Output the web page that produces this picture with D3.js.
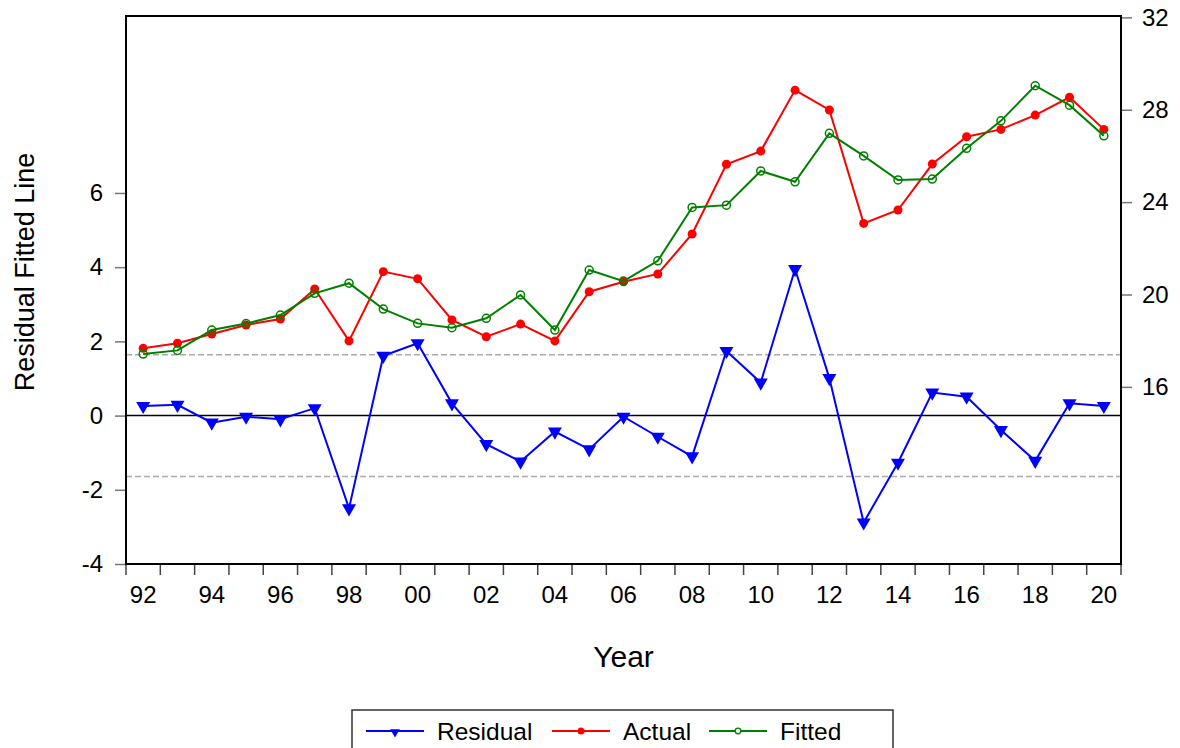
<!DOCTYPE html>
<html>
<head>
<meta charset="utf-8">
<script src="https://cdn.jsdelivr.net/npm/d3@7"></script>
<style>
  body { margin: 0; background: #fff; }
  text { font-family: "Liberation Sans", Arial, sans-serif; fill: #000; }
</style>
</head>
<body>
<div id="chart"></div>
<script>
// ---- data ----
const years    = d3.range(1992, 2021);
const residual = [0.26, 0.29, -0.19, -0.03, -0.10, 0.20, -2.50, 1.61, 1.95, 0.33,
                  -0.77, -1.24, -0.43, -0.91, -0.03, -0.57, -1.10, 1.74, 0.89, 3.95,
                  1.01, -2.88, -1.27, 0.62, 0.51, -0.39, -1.22, 0.33, 0.26];
const actual   = [17.67, 17.89, 18.29, 18.68, 18.94, 20.24, 17.99, 20.99, 20.68, 18.90,
                  18.17, 18.72, 17.99, 20.12, 20.55, 20.89, 22.62, 25.64, 26.21, 28.85,
                  27.99, 23.08, 23.66, 25.65, 26.83, 27.15, 27.77, 28.54, 27.15];
const fitted   = [17.42, 17.58, 18.46, 18.74, 19.11, 20.05, 20.49, 19.37, 18.75, 18.56,
                  18.97, 19.98, 18.46, 21.06, 20.58, 21.46, 23.77, 23.87, 25.35, 24.88,
                  26.98, 26.00, 24.96, 25.00, 26.33, 27.52, 29.04, 28.20, 26.87];
const leftTicks  = [-4, -2, 0, 2, 4, 6];
const rightTicks = [16, 20, 24, 28, 32];
const residBand  = 1.64;   // +/- 1 s.e. dashed lines

const W = 1180, H = 748;
const frame = { left: 126, right: 1121, top: 16, bottom: 564 };

const svg = d3.select('#chart').append('svg')
  .attr('width', W).attr('height', H);

const x  = d3.scaleBand().domain(years).range([frame.left, frame.right]);
const yL = d3.scaleLinear().domain([-4, 10.77]).range([frame.bottom, frame.top]);
const yR = d3.scaleLinear().domain([8.33, 32.06]).range([frame.bottom, frame.top]);
const cx = d => x(d) + x.bandwidth() / 2;

/* -------- reference lines -------- */
svg.selectAll('line.band').data([residBand, -residBand]).enter().append('line')
  .attr('x1', frame.left).attr('x2', frame.right)
  .attr('y1', d => yL(d)).attr('y2', d => yL(d))
  .attr('stroke', '#aaa').attr('stroke-width', 1.5).attr('stroke-dasharray', '6,3');

svg.append('line')
  .attr('x1', frame.left).attr('x2', frame.right)
  .attr('y1', yL(0)).attr('y2', yL(0))
  .attr('stroke', '#000').attr('stroke-width', 1.5);

/* -------- series -------- */
const tri = d3.symbol().type(d3.symbolTriangle).size(85);

function series (vals, scale, color) {
  const pts = years.map((yr, i) => [cx(yr), scale(vals[i])]);
  svg.append('path')
    .attr('d', d3.line()(pts))
    .attr('fill', 'none').attr('stroke', color).attr('stroke-width', 2);
  return svg.append('g').selectAll('g').data(pts).enter();
}

series(residual, yL, '#0000ff').append('path')
  .attr('d', tri)
  .attr('transform', d => `translate(${d[0]},${d[1]}) rotate(180)`)
  .attr('fill', '#0000ff');

series(actual, yR, '#ff0000').append('circle')
  .attr('cx', d => d[0]).attr('cy', d => d[1]).attr('r', 4.5)
  .attr('fill', '#ff0000');

series(fitted, yR, '#008000').append('circle')
  .attr('cx', d => d[0]).attr('cy', d => d[1]).attr('r', 4)
  .attr('fill', 'none').attr('stroke', '#008000').attr('stroke-width', 1.5);

/* -------- axes -------- */
const axL = svg.append('g').attr('transform', `translate(${frame.left},0)`)
  .call(d3.axisLeft(yL).tickValues(leftTicks).tickFormat(d => String(d))
    .tickSize(11).tickPadding(12));
const axR = svg.append('g').attr('transform', `translate(${frame.right},0)`)
  .call(d3.axisRight(yR).tickValues(rightTicks).tickFormat(d => String(d))
    .tickSize(11).tickPadding(10));
[axL, axR].forEach(a => {
  a.select('.domain').remove();
  a.selectAll('line').attr('stroke', '#777').attr('stroke-width', 1.5);
  a.selectAll('text').style('font-size', '24px').attr('font-family', null);
});

// year ticks sit on the band edges, labels on the band centres
const edges = years.map(d => x(d)).concat([frame.right]);
svg.append('g').selectAll('line').data(edges).enter().append('line')
  .attr('x1', d => d).attr('x2', d => d)
  .attr('y1', frame.bottom).attr('y2', frame.bottom + 11)
  .attr('stroke', '#444').attr('stroke-width', 1.5);
svg.append('g').selectAll('text').data(years.filter(d => d % 2 === 0)).enter().append('text')
  .attr('x', cx).attr('y', 603)
  .attr('text-anchor', 'middle').style('font-size', '24px')
  .text(d => String(d).slice(2));

/* -------- frame -------- */
svg.append('rect')
  .attr('x', frame.left).attr('y', frame.top)
  .attr('width', frame.right - frame.left).attr('height', frame.bottom - frame.top)
  .attr('fill', 'none').attr('stroke', '#000').attr('stroke-width', 2);

/* -------- titles -------- */
svg.append('text')
  .attr('x', (frame.left + frame.right) / 2).attr('y', 667)
  .attr('text-anchor', 'middle').style('font-size', '30px')
  .text('Year');
svg.append('text')
  .attr('transform', 'translate(34,272) rotate(-90)')
  .attr('text-anchor', 'middle').style('font-size', '27px')
  .text('Residual Fitted Line');

/* -------- legend -------- */
const legend = svg.append('g');
legend.append('rect')
  .attr('x', 352).attr('y', 710).attr('width', 541).attr('height', 60)
  .attr('fill', '#fff').attr('stroke', '#333').attr('stroke-width', 1.5);

const items = [
  { name: 'Residual', color: '#0000ff', x0: 366, mark: 'tri'  },
  { name: 'Actual',   color: '#ff0000', x0: 552, mark: 'dot'  },
  { name: 'Fitted',   color: '#008000', x0: 709, mark: 'ring' }
];
const ly = 731;
items.forEach(it => {
  legend.append('line')
    .attr('x1', it.x0).attr('x2', it.x0 + 58).attr('y1', ly).attr('y2', ly)
    .attr('stroke', it.color).attr('stroke-width', 2);
  const mx = it.x0 + 29;
  if (it.mark === 'tri') {
    legend.append('path').attr('d', d3.symbol().type(d3.symbolTriangle).size(40)())
      .attr('transform', `translate(${mx},${ly + 1}) rotate(180)`).attr('fill', it.color);
  } else if (it.mark === 'dot') {
    legend.append('circle').attr('cx', mx).attr('cy', ly).attr('r', 3.5).attr('fill', it.color);
  } else {
    legend.append('circle').attr('cx', mx).attr('cy', ly).attr('r', 2.8)
      .attr('fill', '#fff').attr('stroke', it.color).attr('stroke-width', 1.3);
  }
  legend.append('text')
    .attr('x', it.x0 + 71).attr('y', ly + 8.5)
    .style('font-size', '24.5px')
    .text(it.name);
});
</script>
</body>
</html>
